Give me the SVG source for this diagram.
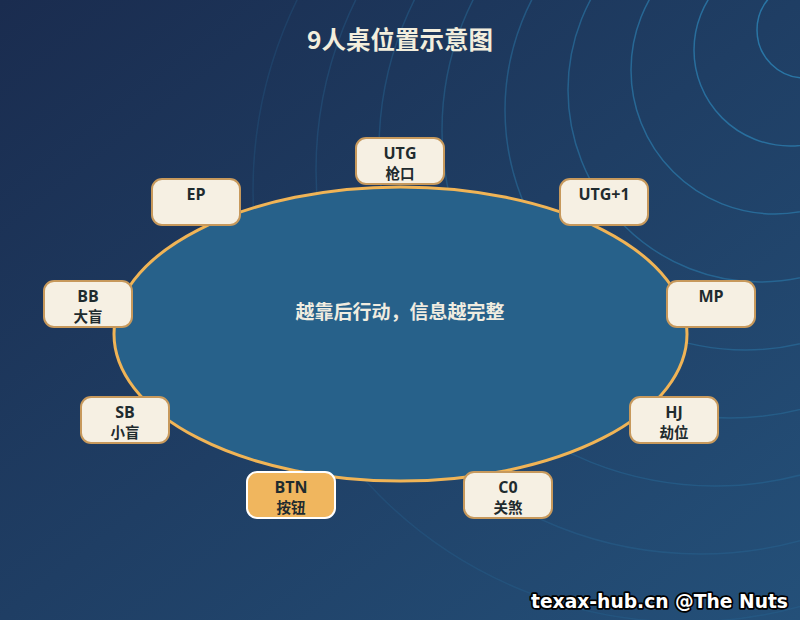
<svg xmlns="http://www.w3.org/2000/svg" width="800" height="620" viewBox="0 0 800 620">
<defs>
<linearGradient id="bg" x1="0" y1="0" x2="1" y2="1">
<stop offset="0" stop-color="#1a2c4f"/>
<stop offset="1" stop-color="#245079"/>
</linearGradient>
<style>
.ring{fill:none;stroke:#2c7fb0;stroke-width:1.5}
.node rect{fill:#f6f0e3;stroke:#c7995c;stroke-width:2}
.node.hl rect{fill:#f0b65e;stroke:#ffffff;stroke-width:2}
.t1{font-family:"Open Sans","Noto Sans CJK SC",sans-serif;font-weight:700;font-size:16px;fill:#1f2b2e;text-anchor:middle}
.t2{font-family:"Noto Sans CJK SC",sans-serif;font-weight:700;font-size:14.5px;fill:#1f2b2e;text-anchor:middle}
.title{font-family:"Noto Sans CJK SC",sans-serif;font-weight:700;font-size:24.5px;fill:#f3eedd;text-anchor:middle}
.center{font-family:"Noto Sans CJK SC",sans-serif;font-weight:700;font-size:19px;fill:#f0ece0;text-anchor:middle}
.wm{font-family:"DejaVu Sans",sans-serif;font-weight:700;font-size:18.7px;fill:#ffffff;stroke:#000000;stroke-width:3.5;stroke-linejoin:round;paint-order:stroke;text-anchor:end}
</style>
</defs>
<rect x="0" y="0" width="800" height="620" fill="url(#bg)"/>
<g id="ripples">
<circle class="ring" cx="805" cy="30" r="48" opacity="0.85"/>
<circle class="ring" cx="790" cy="50" r="96" opacity="0.75"/>
<circle class="ring" cx="775" cy="70" r="144" opacity="0.65"/>
<circle class="ring" cx="760" cy="90" r="192" opacity="0.55"/>
<circle class="ring" cx="745" cy="110" r="240" opacity="0.45"/>
<circle class="ring" cx="730" cy="130" r="288" opacity="0.36"/>
<circle class="ring" cx="715" cy="150" r="336" opacity="0.3"/>
<circle class="ring" cx="700" cy="170" r="384" opacity="0.24"/>
<circle class="ring" cx="685" cy="190" r="432" opacity="0.18"/>
</g>
<text class="title" x="400" y="49">9人桌位置示意图</text>
<g id="table">
<ellipse cx="400.5" cy="334" rx="286.5" ry="147" fill="#27618a" stroke="#f0b456" stroke-width="3"/>
<text class="center" x="400" y="319">越靠后行动，信息越完整</text>
</g>
<g id="connectors"></g>
<g id="utg" class="node"><rect x="356" y="138" width="88" height="46" rx="10"/><text class="t1" x="400" y="159">UTG</text><text class="t2" x="400" y="179">枪口</text></g>
<g id="ep" class="node"><rect x="152" y="179" width="88" height="46" rx="10"/><text class="t1" x="196" y="200">EP</text></g>
<g id="utg1" class="node"><rect x="560" y="179" width="88" height="46" rx="10"/><text class="t1" x="604" y="200">UTG+1</text></g>
<g id="bb" class="node"><rect x="44" y="281" width="88" height="46" rx="10"/><text class="t1" x="88" y="302">BB</text><text class="t2" x="88" y="322">大盲</text></g>
<g id="mp" class="node"><rect x="667" y="281" width="88" height="46" rx="10"/><text class="t1" x="711" y="302">MP</text></g>
<g id="sb" class="node"><rect x="81" y="397" width="88" height="46" rx="10"/><text class="t1" x="125" y="418">SB</text><text class="t2" x="125" y="438">小盲</text></g>
<g id="hj" class="node"><rect x="630" y="397" width="88" height="46" rx="10"/><text class="t1" x="674" y="418">HJ</text><text class="t2" x="674" y="438">劫位</text></g>
<g id="btn" class="node hl"><rect x="247" y="472" width="88" height="46" rx="10"/><text class="t1" x="291" y="493">BTN</text><text class="t2" x="291" y="513">按钮</text></g>
<g id="co" class="node"><rect x="464" y="472" width="88" height="46" rx="10"/><text class="t1" x="508" y="493">C0</text><text class="t2" x="508" y="513">关煞</text></g>
<text class="wm" x="788" y="608">texax-hub.cn @The Nuts</text>
</svg>
